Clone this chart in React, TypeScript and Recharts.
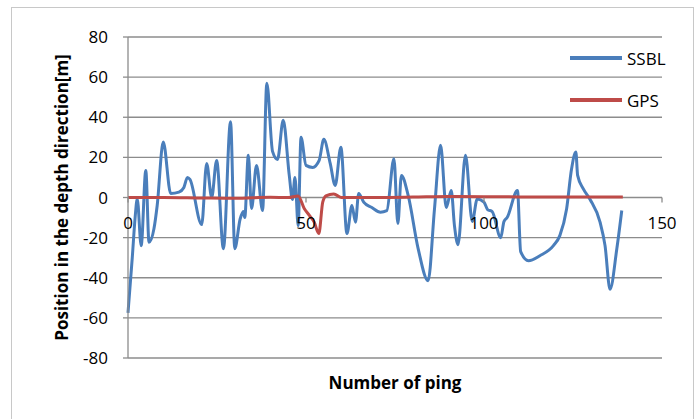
import { LineChart, Line, XAxis, YAxis, CartesianGrid, Legend } from 'recharts';

// SSBL track (ping, depth)
const ssblPing = [
  0, 1.2, 2.0, 2.6, 3.7, 5.0, 5.9, 7.3, 8.2, 9.9, 12.0, 14.3, 15.7, 16.7, 17.4, 20.7,
  22.1, 23.5, 24.9, 26.8, 28.8, 30.0, 31.5, 32.4, 32.8, 33.8, 34.7, 36.1, 37.8, 39.0,
  40.6, 42.0, 43.6, 45.3, 46.2, 46.9, 47.8, 48.6, 50.0, 51.9, 53.7, 55.0, 56.8, 58.2,
  59.8, 61.5, 62.9, 63.9, 64.8, 66.2, 68.5, 70.9, 72.7, 74.7, 75.8, 76.8, 78.7, 81.5,
  84.3, 86.1, 87.8, 89.4, 90.8, 91.7, 92.7, 94.8, 96.7, 98.1, 100.0, 101.0, 102.3,
  104.7, 105.6, 106.5, 109.4, 110.3, 112.5, 115.7, 119.5, 121.3, 123.2, 124.6, 125.8,
  126.3, 127.9, 129.8, 132.6, 134.0, 135.4, 137.3, 138.7,
];
const ssblDepth = [
  -57.5, -30, -10, -0.7, -24, 13.5, -22.3, -15.5, -4, 27.7, 2, 2.7, 5, 10, 9, -13.5,
  17, 0, 18.5, -25.5, 37.7, -25.5, -10.7, -7, -10, 21, -5.5, 16, -6.5, 57,
  23, 19, 38.5, 11, -1, 10, -14, 30, 16, 15, 18.5, 29, 17, 6,
  25, -18, -4, -12.3, 2, -2.3, -5, -7.3, -6.5, 19.3, -13, 11, 1, -25.5,
  -41.5, -5.5, 26, -5, 3.5, -14, -23.5, 21, -12, -0.7, -2.3, -6, -7,
  -20, -12, -10, 3.5, -27, -31.5, -29, -24, -19, -5.7, 14.3, 22.7,
  11, 4.3, -1, -12.3, -24, -45.7, -25.7, -6.5,
];

// GPS track
const gpsPing = [0, 10, 20, 30, 40, 45, 47.8, 49.5, 51.0, 52.3, 53.6, 54.7, 55.6, 57.8, 60, 70, 80, 90, 100, 110, 120, 130, 139];
const gpsDepth = [0, 0, -0.2, -0.4, 0.1, 0, 0.8, -5.5, -9, -12.3, -18, -2.3, 0.8, 1.8, 0, 0, 0.2, 0.5, 0.4, 0.3, 0.3, 0.2, 0.3];

const seriesOrder = ['SSBL', 'GPS'];
const xTicks = [0, 50, 100, 150];
const yTicks = [-80, -60, -40, -20, 0, 20, 40, 60, 80];

const ssblData = ssblPing.map((x, i) => ({ x, y: ssblDepth[i] }));
const gpsData = gpsPing.map((x, i) => ({ x, y: gpsDepth[i] }));

const W = 699;
const H = 419;
const TOP = 37;
const BOTTOM_MARGIN = 21;
const X_AXIS_H = 40;
const PLOT_H = H - TOP - BOTTOM_MARGIN - X_AXIS_H;
const Y_MIN = -80;
const Y_MAX = 80;
// distance from the plot bottom up to the zero line, where the x axis sits
const ZERO_UP = (PLOT_H * (0 - Y_MIN)) / (Y_MAX - Y_MIN);

const FONT = '"Open Sans", sans-serif';
const GRID = '#8c8c8c';

const XTick = (props: any) => {
  const { x, y, payload } = props;
  const zy = y - ZERO_UP;
  return (
    <g>
      <line x1={x} x2={x} y1={zy} y2={zy + 5} stroke={GRID} strokeWidth={1.3} />
      <text x={x} y={zy + 27} textAnchor="middle" dominantBaseline="middle" fontSize={17} fill="#000" fontFamily={FONT}>
        {payload.value}
      </text>
    </g>
  );
};

const LegendBox = (props: any) => {
  const items = [...(props.payload || [])].sort(
    (a: any, b: any) => seriesOrder.indexOf(a.value) - seriesOrder.indexOf(b.value)
  );
  return (
    <div>
      {items.map((p: any) => (
        <div key={p.value} style={{ display: 'flex', alignItems: 'center', height: 42 }}>
          <div style={{ width: 52, height: 3.5, background: p.color }} />
          <span style={{ marginLeft: 5, fontSize: 17, fontFamily: FONT, color: '#000' }}>{p.value}</span>
        </div>
      ))}
    </div>
  );
};

export default function App() {
  return (
    <div style={{ position: 'absolute', left: 0, top: 0, width: W, height: H, background: '#fff', overflow: 'hidden' }}>
      <div style={{ position: 'absolute', left: 11, top: 7, width: 681, height: 430, border: '1px solid #c8c8c8' }} />
      <LineChart width={W} height={H} margin={{ top: TOP, right: 37, bottom: BOTTOM_MARGIN, left: 0 }}>
        <CartesianGrid vertical={false} stroke={GRID} strokeWidth={1.3} />
        <XAxis
          dataKey="x"
          type="number"
          domain={[0, 150]}
          ticks={xTicks}
          height={X_AXIS_H}
          axisLine={false}
          tickLine={false}
          tickSize={0}
          tickMargin={0}
          tick={<XTick />}
          allowDuplicatedCategory={false}
          label={{ value: 'Number of ping', position: 'insideBottom', offset: 9, fontSize: 17, fontWeight: 'bold', fill: '#000', fontFamily: FONT }}
        />
        <YAxis
          type="number"
          domain={[Y_MIN, Y_MAX]}
          ticks={yTicks}
          width={128}
          axisLine={{ stroke: GRID, strokeWidth: 1.3 }}
          tickLine={{ stroke: GRID, strokeWidth: 1.3 }}
          tickSize={5}
          tickMargin={15}
          tick={{ fontSize: 17, fill: '#000', fontFamily: FONT }}
          label={{ value: 'Position in the depth direction[m]', angle: -90, position: 'center', dx: -2, fontSize: 17, fontWeight: 'bold', fill: '#000', fontFamily: FONT }}
        />
        <Legend
          layout="vertical"
          align="center"
          verticalAlign="middle"
          content={<LegendBox />}
          wrapperStyle={{ left: 570, top: 37, width: 110, height: 90 }}
        />
        <Line data={ssblData} dataKey="y" name="SSBL" type="monotone" stroke="#4a7ebb" strokeWidth={3} dot={false} isAnimationActive={false} />
        <Line data={gpsData} dataKey="y" name="GPS" type="monotone" stroke="#be4b48" strokeWidth={3} dot={false} isAnimationActive={false} />
      </LineChart>
    </div>
  );
}
